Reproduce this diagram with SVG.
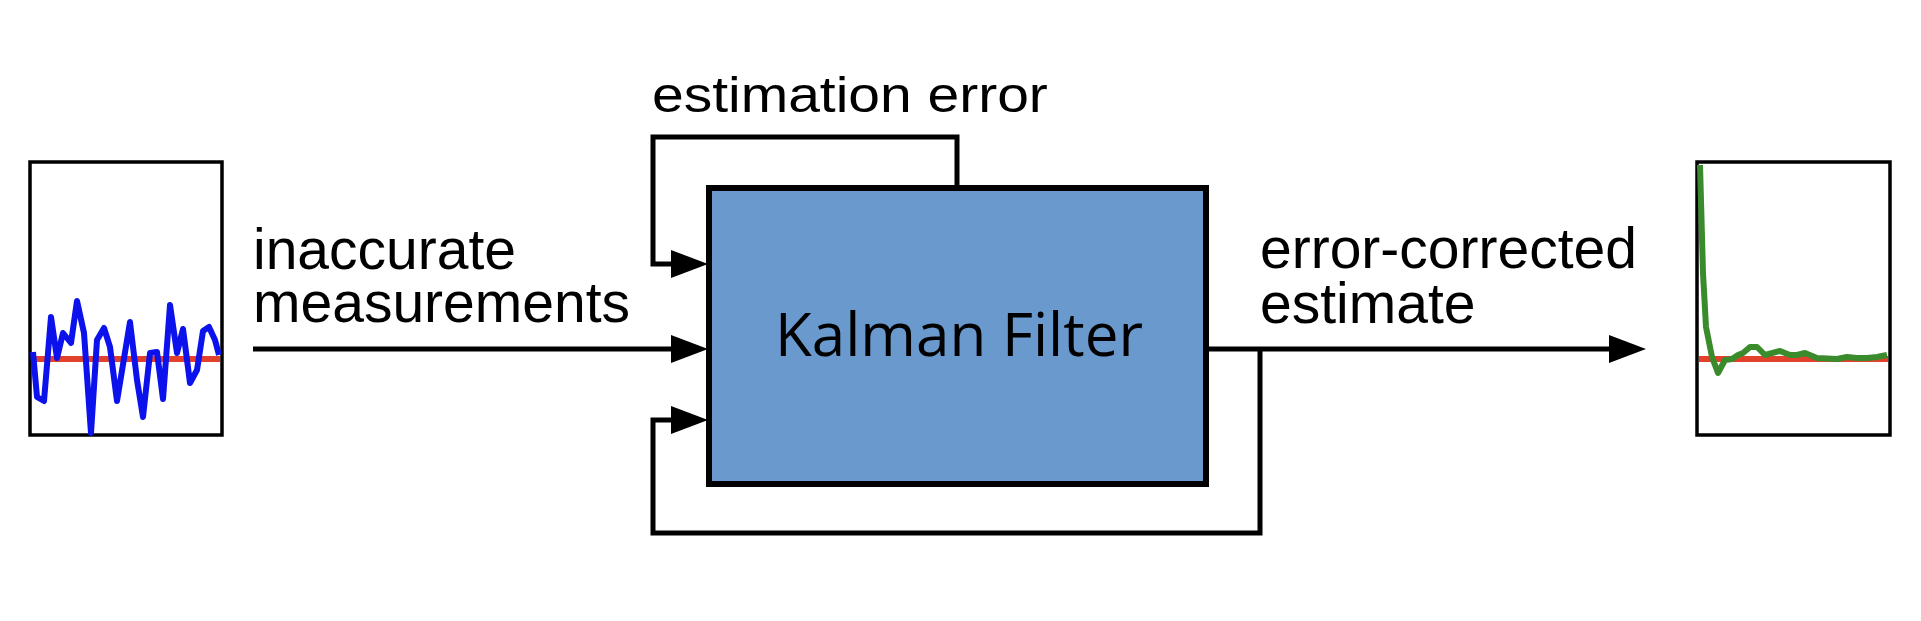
<svg xmlns="http://www.w3.org/2000/svg" width="1921" height="621" viewBox="0 0 1921 621">
  <style>
    .lbl { font-family: "Liberation Sans", Arial, sans-serif; font-size: 57px; fill: #000; }
    .conn { fill: none; stroke: #000; stroke-width: 5; stroke-linejoin: miter; }
    .frame { fill: #fff; stroke: #000; stroke-width: 3.5; }
    .ref { fill: none; stroke: #e2412c; stroke-width: 6; }
  </style>
  <defs>
    <marker id="arr" markerUnits="userSpaceOnUse" markerWidth="37" markerHeight="28" refX="26" refY="14" orient="auto">
      <path d="M0,0 L37,14 L0,28 z" fill="#000"/>
    </marker>
  </defs>
  <rect width="1921" height="621" fill="#fff"/>

  <g id="input-chart">
    <rect class="frame" x="30" y="162" width="192" height="273"/>
    <line class="ref" x1="32" y1="359" x2="220" y2="359"/>
    <polyline fill="none" stroke="#0b12ec" stroke-width="6" stroke-linejoin="round" points="33,352 37,397 44,401 51,317 57,358 63,333 71,343 77,301 84,333 91,433 97,340 104,328 110,347 117,401 130,322 137,380 143,417 150,353 157,352 163,399 170,305 177,353 183,329 190,383 197,370 203,331 209,327 215,340 219,355"/>
  </g>

  <g id="output-chart">
    <rect class="frame" x="1697" y="162" width="193" height="273"/>
    <line class="ref" x1="1699" y1="359" x2="1888" y2="359"/>
    <polyline fill="none" stroke="#3a8b2b" stroke-width="6" stroke-linejoin="round" points="1700,165 1703,273 1706,327 1712,357 1718,373 1725,360 1732,359 1738,355 1743,353 1750,347 1757,347 1765,355 1780,351 1790,355 1797,355 1805,353 1817,358 1837,359 1847,357 1857,358 1867,358 1877,357 1887,355"/>
  </g>

  <g id="kalman-filter">
    <rect x="709" y="188" width="497" height="296" fill="#6999cd" stroke="#000" stroke-width="6"/>
    <text x="775" y="356" font-family="'Open Sans', 'Noto Sans', sans-serif" font-size="60" textLength="368" lengthAdjust="spacingAndGlyphs" fill="#000">Kalman Filter</text>
  </g>

  <g id="connectors">
    <path class="conn" d="M253,349 H697" marker-end="url(#arr)"/>
    <path class="conn" d="M957,186 V137 H653 V264 H697" marker-end="url(#arr)"/>
    <path class="conn" d="M1260,349 V533 H653 V420 H697" marker-end="url(#arr)"/>
    <path class="conn" d="M1208,349 H1635" marker-end="url(#arr)"/>
  </g>

  <g id="labels">
    <text class="lbl" x="253" y="269">inaccurate<tspan x="253" y="322">measurements</tspan></text>
    <text class="lbl" transform="translate(652,112) scale(1,0.87)" x="0" y="0">estimation error</text>
    <text class="lbl" x="1260" y="268">error-corrected<tspan x="1260" y="323">estimate</tspan></text>
  </g>
</svg>
